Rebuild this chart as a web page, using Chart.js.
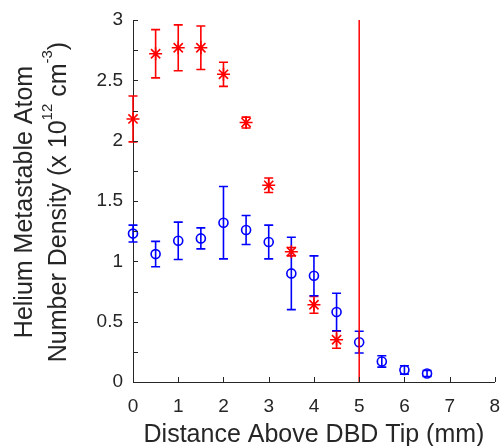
<!DOCTYPE html>
<html lang="en">
<head>
<meta charset="UTF-8">
<title>Helium Metastable Atom Number Density</title>
<script src="https://cdn.jsdelivr.net/npm/chart.js"></script>
<style>
  html, body { margin: 0; padding: 0; background: #fff; }
  #wrap { width: 503px; height: 446px; }
</style>
</head>
<body>
<div id="wrap"><canvas id="chart"></canvas></div>
<script>
// red asterisks
const redX   = [0, 0.5, 1, 1.5, 2, 2.5, 3, 3.5, 4, 4.5];
const redY   = [2.18, 2.72, 2.77, 2.77, 2.55, 2.15, 1.63, 1.08, 0.64, 0.35];
const redErr = [0.19, 0.20, 0.19, 0.18, 0.10, 0.045, 0.06, 0.035, 0.07, 0.07];

// blue circles
const blueX   = [0, 0.5, 1, 1.5, 2, 2.5, 3, 3.5, 4, 4.5, 5, 5.5, 6, 6.5];
const blueY   = [1.23, 1.06, 1.17, 1.19, 1.32, 1.26, 1.16, 0.90, 0.88, 0.58, 0.33, 0.17, 0.10, 0.07];
const blueErr = [0.07, 0.105, 0.155, 0.087, 0.30, 0.12, 0.14, 0.30, 0.165, 0.155, 0.09, 0.047, 0.035, 0.025];

// vertical marker line
const lineX = [5, 5];
const lineY = [0, 3];

const xTitle = 'Distance Above DBD Tip (mm)';
const yTitle1 = 'Helium Metastable Atom';

const RED = '#ff0000';
const BLUE = '#0000ff';
const AXIS = '#262626';
const FONT = '"Liberation Sans", Arial, sans-serif';

const pts = (xs, ys) => xs.map((x, i) => ({ x: x, y: ys[i] }));

// error bars, drawn under the markers
const errorBars = {
    id: 'errorBars',
    beforeDatasetsDraw(chart) {
        const ctx = chart.ctx;
        const xs = chart.scales.x, ys = chart.scales.y;
        const sets = [[redX, redY, redErr, RED], [blueX, blueY, blueErr, BLUE]];
        ctx.save();
        ctx.lineWidth = 1.6;
        sets.forEach(([X, Y, E, col]) => {
            ctx.strokeStyle = col;
            X.forEach((x, i) => {
                const px = xs.getPixelForValue(x);
                const top = ys.getPixelForValue(Y[i] + E[i]);
                const bot = ys.getPixelForValue(Y[i] - E[i]);
                ctx.beginPath();
                ctx.moveTo(px, top); ctx.lineTo(px, bot);
                ctx.moveTo(px - 4.5, top); ctx.lineTo(px + 4.5, top);
                ctx.moveTo(px - 4.5, bot); ctx.lineTo(px + 4.5, bot);
                ctx.stroke();
            });
        });
        ctx.restore();
    }
};

// inward ticks and axis titles
const decor = {
    id: 'decor',
    afterDraw(chart) {
        const ctx = chart.ctx;
        const xs = chart.scales.x, ys = chart.scales.y;
        const a = chart.chartArea;
        ctx.save();
        ctx.strokeStyle = AXIS;
        ctx.lineWidth = 1;
        ctx.beginPath();
        xs.ticks.forEach(t => {
            const px = Math.round(xs.getPixelForValue(t.value)) + 0.5;
            ctx.moveTo(px, a.bottom); ctx.lineTo(px, a.bottom - 5);
        });
        ys.ticks.forEach(t => {
            const py = Math.round(ys.getPixelForValue(t.value)) + 0.5;
            ctx.moveTo(a.left, py); ctx.lineTo(a.left + 5, py);
        });
        ctx.stroke();

        ctx.fillStyle = AXIS;
        ctx.font = '25px ' + FONT;
        ctx.textAlign = 'center';
        ctx.textBaseline = 'alphabetic';
        ctx.fillText(xTitle, (a.left + a.right) / 2, 442);

        const cy = 202;
        ctx.save();
        ctx.translate(32, cy);
        ctx.rotate(-Math.PI / 2);
        ctx.fillText(yTitle1, 0, 0);
        ctx.restore();

        // second line with superscripts
        const parts = [
            ['Number Density (x 10', false],
            ['12', true],
            [' cm', false],
            ['-3', true],
            [')', false]
        ];
        const fontFor = sup => (sup ? '15px ' : '25px ') + FONT;
        let total = 0;
        parts.forEach(([s, sup]) => { ctx.font = fontFor(sup); total += ctx.measureText(s).width; });
        ctx.save();
        ctx.translate(66, cy);
        ctx.rotate(-Math.PI / 2);
        ctx.textAlign = 'left';
        let pos = -total / 2;
        parts.forEach(([s, sup]) => {
            ctx.font = fontFor(sup);
            ctx.fillText(s, pos, sup ? -14 : 0);
            pos += ctx.measureText(s).width;
        });
        ctx.restore();
        ctx.restore();
    }
};

new Chart(document.getElementById('chart'), {
    type: 'scatter',
    data: {
        datasets: [
            {
                type: 'line',
                data: pts(lineX, lineY),
                borderColor: RED,
                borderWidth: 1.5,
                pointRadius: 0,
                showLine: true,
                clip: false
            },
            {
                data: pts(blueX, blueY),
                pointStyle: 'circle',
                pointRadius: 4.5,
                borderColor: BLUE,
                backgroundColor: 'rgba(0,0,0,0)',
                pointBorderWidth: 1.6,
                clip: false
            },
            {
                data: pts(redX, redY),
                pointStyle: 'star',
                pointRadius: 6.5,
                borderColor: RED,
                backgroundColor: RED,
                pointBorderWidth: 1.6,
                clip: false
            }
        ]
    },
    options: {
        responsive: true,
        maintainAspectRatio: false,
        animation: false,
        events: [],
        layout: { padding: { left: 0, top: 20, right: 8, bottom: 0 } },
        plugins: {
            legend: { display: false },
            tooltip: { enabled: false }
        },
        scales: {
            x: {
                type: 'linear',
                min: 0,
                max: 8,
                afterFit: s => { s.height = 64; s.paddingLeft = 0; s.paddingRight = 0; },
                grid: { display: false, drawTicks: false },
                border: { display: true, color: AXIS, width: 1 },
                ticks: {
                    stepSize: 1,
                    autoSkip: false,
                    maxRotation: 0,
                    padding: 13,
                    color: AXIS,
                    font: { family: FONT, size: 19 }
                }
            },
            y: {
                type: 'linear',
                min: 0,
                max: 3,
                afterFit: s => { s.width = 133; s.paddingTop = 0; s.paddingBottom = 0; },
                grid: { display: false, drawTicks: false },
                border: { display: true, color: AXIS, width: 1 },
                ticks: {
                    stepSize: 0.25,
                    autoSkip: false,
                    padding: 10,
                    color: AXIS,
                    font: { family: FONT, size: 19 },
                    callback: v => (Math.abs(v * 2 - Math.round(v * 2)) < 1e-9 ? String(v) : '')
                }
            }
        }
    },
    plugins: [errorBars, decor]
});
</script>
</body>
</html>
